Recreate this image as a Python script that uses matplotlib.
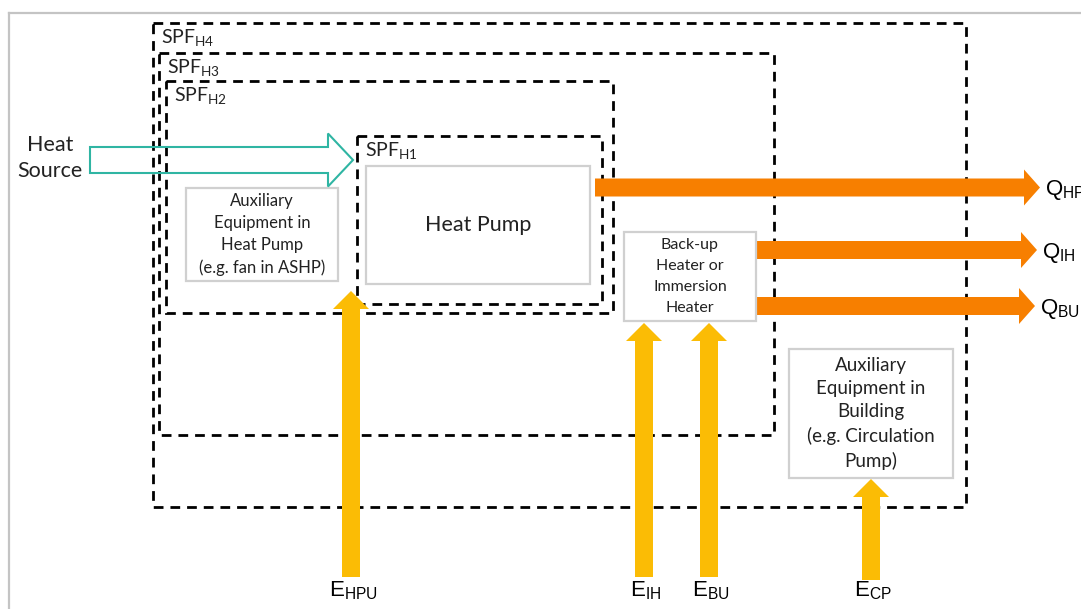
import matplotlib.pyplot as plt
from matplotlib.patches import Rectangle, FancyArrow

plt.rcParams['mathtext.default'] = 'regular'

# system boundaries (dashed): label, x0, y0, x1, y1
bound_names = ["H4", "H3", "H2", "H1"]
bound_x0 = [153, 159, 166, 357]
bound_y0 = [23, 53, 81, 136]
bound_x1 = [966, 774, 613, 602]
bound_y1 = [507, 435, 313, 304]

# component boxes (grey frame)
box_text = ["Heat Pump",
            "Auxiliary\nEquipment in\nHeat Pump\n(e.g. fan in ASHP)",
            "Back-up\nHeater or\nImmersion\nHeater",
            "Auxiliary\nEquipment in\nBuilding\n(e.g. Circulation\nPump)"]
box_x0 = [366, 186, 624, 789]
box_y0 = [166, 188, 232, 349]
box_x1 = [590, 338, 756, 953]
box_y1 = [284, 281, 321, 478]
box_fs = [15.5, 12, 11.5, 13.5]
box_ls = [1.2, 1.45, 1.65, 1.45]

# heat outputs (orange)
q_names = ["HP", "IH", "BU"]
q_tail = [595, 757, 757]
q_tip = [1040, 1037, 1035]
q_y = [187.5, 250, 306]

# energy inputs (yellow)
e_names = ["HPU", "IH", "BU", "CP"]
e_x = [351, 644, 709, 871]
e_tail = [577, 577, 577, 580]
e_tip = [291, 323, 323, 479]

orange = "#f77f00"
yellow = "#fbbc05"
teal = "#2fb5a3"

fig = plt.figure(figsize=(10.81, 6.09), dpi=100)
ax = fig.add_axes([0, 0, 1, 1])
ax.set_xlim(0, 1081)
ax.set_ylim(609, 0)
ax.axis("off")

# outer grey frame
ax.plot([9, 1081], [13, 13], color="#c4c4c4", lw=1.6)
ax.plot([9, 9], [13, 609], color="#c4c4c4", lw=1.6)

for i in range(len(bound_names)):
    w = bound_x1[i] - bound_x0[i]
    h = bound_y1[i] - bound_y0[i]
    ax.add_patch(Rectangle((bound_x0[i], bound_y0[i]), w, h, fill=False,
                           ec="black", lw=2, linestyle=(0, (3.5, 2.5))))
    ax.text(bound_x0[i] + 8, bound_y0[i] + 4, "SPF$_{%s}$" % bound_names[i],
            fontsize=14, family="Lato", va="top", ha="left", color="#222222")

for i in range(len(box_text)):
    w = box_x1[i] - box_x0[i]
    h = box_y1[i] - box_y0[i]
    ax.add_patch(Rectangle((box_x0[i], box_y0[i]), w, h, fill=True,
                           fc="white", ec="#d0d0d0", lw=1.6, zorder=3))
    ax.text((box_x0[i] + box_x1[i]) / 2, (box_y0[i] + box_y1[i]) / 2, box_text[i],
            fontsize=box_fs[i], family="Lato", ha="center", va="center",
            linespacing=box_ls[i], color="#222222", zorder=4)

# heat source arrow (outline)
ax.add_patch(FancyArrow(90, 160, 263, 0, width=26, head_width=53, head_length=25,
                        length_includes_head=True, fill=False, ec=teal, lw=1.5, zorder=5))
ax.text(50, 158, "Heat\nSource", fontsize=15.5, family="Lato", ha="center",
        va="center", linespacing=1.4, color="#222222")

for i in range(len(q_names)):
    ax.add_patch(FancyArrow(q_tail[i], q_y[i], q_tip[i] - q_tail[i], 0, width=18,
                            head_width=36, head_length=16, length_includes_head=True,
                            fc=orange, ec="none", zorder=2))
    ax.text(q_tip[i] + 5, q_y[i] + 3, "Q$_{%s}$" % q_names[i], fontsize=16,
            family="Liberation Sans", ha="left", va="center")

for i in range(len(e_names)):
    ax.add_patch(FancyArrow(e_x[i], e_tail[i], 0, e_tip[i] - e_tail[i], width=18,
                            head_width=36, head_length=18, length_includes_head=True,
                            fc=yellow, ec="none", zorder=6))
    ax.text(e_x[i] + 2, 591, "E$_{%s}$" % e_names[i], fontsize=16,
            family="Liberation Sans", ha="center", va="center")

plt.savefig("out.png", dpi=100)
